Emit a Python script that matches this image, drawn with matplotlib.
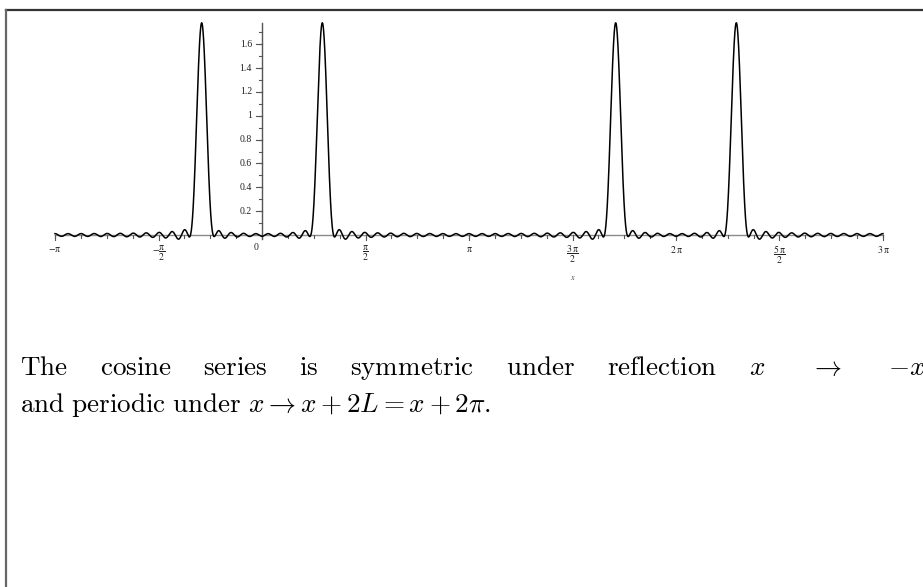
import numpy as np
import matplotlib
matplotlib.use("Agg")
import matplotlib.pyplot as plt
from matplotlib.lines import Line2D

# ---- data / parameters of the plotted cosine series ----
peak_center = 0.915          # pulse location a (peaks at ±a + 2πk)
peak_height = 1.78           # maximum of the partial sum
n_terms = 31                 # highest harmonic kept
window_scale = 22.0          # gaussian taper of the coefficients
x_range = (-np.pi, 3 * np.pi)

y_ticks = [0.2, 0.4, 0.6, 0.8, 1.0, 1.2, 1.4, 1.6]
y_tick_labels = ["0.2", "0.4", "0.6", "0.8", "1", "1.2", "1.4", "1.6"]
x_ticks = [-np.pi, -np.pi / 2, np.pi / 2, np.pi, 3 * np.pi / 2, 2 * np.pi, 5 * np.pi / 2, 3 * np.pi]
x_tick_labels = [r"$-\mathrm{π}$", r"$-\dfrac{\mathrm{π}}{2}$", r"$\dfrac{\mathrm{π}}{2}$", r"$\mathrm{π}$",
                 r"$\dfrac{3\,\mathrm{π}}{2}$", r"$2\,\mathrm{π}$", r"$\dfrac{5\,\mathrm{π}}{2}$", r"$3\,\mathrm{π}$"]

line1_words = [r"$\mathrm{The}$", r"$\mathrm{cosine}$", r"$\mathrm{series}$", r"$\mathrm{is}$",
               r"$\mathrm{symmetric}$", r"$\mathrm{under}$", r"$\mathrm{reflection}$",
               r"$x$", r"$\rightarrow$", r"$-x$"]
# glue type before each word: 0 = inter-word space, 1 = relation space
line1_glue = [0, 0, 0, 0, 0, 0, 0, 1, 1]
line2_text = r"$\mathrm{and\ periodic\ under\ }x \rightarrow x + 2L = x + 2\pi.$"

# ---- the series ----
n = np.arange(n_terms + 1)
coef = np.exp(-(n / window_scale) ** 2) * np.cos(n * peak_center)
coef[0] *= 0.5
xs = np.linspace(x_range[0], x_range[1], 6000)
ys = (coef[:, None] * np.cos(n[:, None] * xs[None, :])).sum(axis=0)
ys = ys * peak_height / ys.max()

W, H = 923, 587
fig = plt.figure(figsize=(W / 100, H / 100), dpi=100)

# axes placement (pixel layout)
px_left, px_right = 55, 883
px_zero = 235.0
px_per_unit = 119.2
px_top, px_bot = 15, 252
ax = fig.add_axes([px_left / W, 1 - px_bot / H, (px_right - px_left) / W, (px_bot - px_top) / H])
ax.set_xlim(*x_range)
ax.set_ylim(-(px_bot - px_zero) / px_per_unit, (px_zero - px_top) / px_per_unit)
ax.axis("off")

dxp = (x_range[1] - x_range[0]) / (px_right - px_left)   # data per pixel x
dyp = 1.0 / px_per_unit                                   # data per pixel y

# axes lines
ax.plot(x_range, [0, 0], color="#8a8a8a", lw=1.0, clip_on=False, zorder=1)
ax.plot([0, 0], [ys.min(), ys.max()], color="#555555", lw=1.0, clip_on=False, zorder=1)

# curve
ax.plot(xs, ys, color="black", lw=1.1, clip_on=False, zorder=3)

# x ticks
minor_x = np.arange(-8, 25) * np.pi / 8
for xv in minor_x:
    ax.plot([xv, xv], [0, -3 * dyp], color="#555555", lw=0.8, clip_on=False)
for xv in x_ticks:
    ax.plot([xv, xv], [0, -5 * dyp], color="#555555", lw=0.8, clip_on=False)

for xv, lab in zip(x_ticks, x_tick_labels):
    ax.text(xv, -9 * dyp, lab, ha="center", va="top", fontsize=7,
            math_fontfamily="stix", color="#222222")
ax.text(-6 * dxp, -8 * dyp, "0", ha="center", va="top", fontsize=7,
        family="Liberation Serif", color="#222222")
ax.text(3 * np.pi / 2, -38 * dyp, r"$x$", ha="center", va="top", fontsize=6,
        math_fontfamily="stix", color="#444444")

# y ticks
for yv in np.arange(1, 18) / 10:
    ax.plot([0, -3 * dxp], [yv, yv], color="#555555", lw=0.8, clip_on=False)
for yv, lab in zip(y_ticks, y_tick_labels):
    ax.plot([0, -6 * dxp], [yv, yv], color="#555555", lw=0.8, clip_on=False)
    ax.text(-10 * dxp, yv, lab, ha="right", va="center", fontsize=7,
            family="Liberation Serif", color="#222222")

# page frame
fig.add_artist(Line2D([5.5 / W, 1], [1 - 10 / H, 1 - 10 / H], color="#333333", lw=1.6))
fig.add_artist(Line2D([5.5 / W, 5.5 / W], [0, 1 - 10 / H], color="#666666", lw=1.6))

# paragraph: first line justified with TeX-like glue
fs = 19.5
em = fs * 100 / 72
base1 = 375
base2 = 412
text_left, text_right = 20, 925
fig.canvas.draw()
renderer = fig.canvas.get_renderer()
tmp = [fig.text(0, 0, w, fontsize=fs, math_fontfamily="cm") for w in line1_words]
widths = [t.get_window_extent(renderer).width for t in tmp]
for t in tmp:
    t.remove()
nat = [0.333 * em if g == 0 else 0.278 * em for g in line1_glue]
stretch = [0.167 * em if g == 0 else 0.278 * em for g in line1_glue]
r = (text_right - text_left - sum(widths) - sum(nat)) / sum(stretch)
gaps = [a + b * r for a, b in zip(nat, stretch)] + [0]
xp = text_left
for w, wd, gp in zip(line1_words, widths, gaps):
    fig.text(xp / W, 1 - base1 / H, w, ha="left", va="baseline", fontsize=fs,
             math_fontfamily="cm", color="black")
    xp += wd + gp
fig.text(text_left / W, 1 - base2 / H, line2_text, ha="left", va="baseline", fontsize=fs,
         math_fontfamily="cm", color="black")

fig.savefig("out.png", dpi=100)
